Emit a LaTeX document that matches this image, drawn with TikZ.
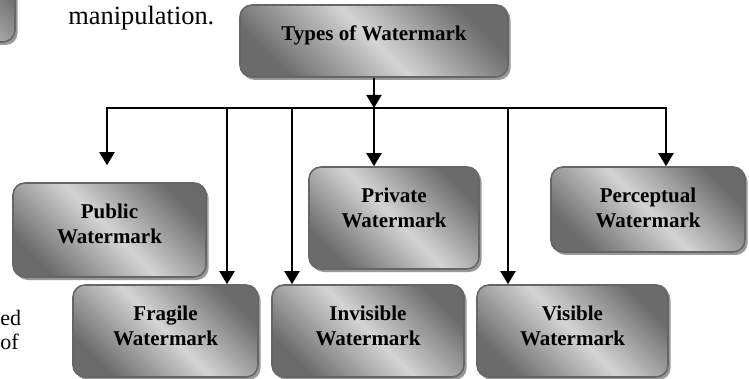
\documentclass[tikz,border=0pt]{standalone}
\usepackage{fontspec}
\setmainfont{Liberation Serif}
\usetikzlibrary{positioning,fit,shadows,arrows.meta}
\definecolor{wmdark}{gray}{0.42}
\definecolor{wmlight}{gray}{0.83}

\begin{document}
\begin{tikzpicture}[x=0.5pt,y=-0.5pt,
    wmbox/.style={draw=black!60,line width=.8pt,rounded corners=6pt,inner sep=0,
      left color=wmdark,right color=wmdark,middle color=wmlight,shading angle=135,
      drop shadow={shadow xshift=1.3pt,shadow yshift=-1.5pt,fill=black!40,opacity=1}},
    wmtext/.style={font=\fontsize{10.5}{12.5}\selectfont\bfseries,align=center,inner sep=0},
    pagetext/.style={font=\fontsize{13.2}{16}\selectfont,inner sep=0},
    wmline/.style={line width=1pt,line cap=rect},
    wmarrow/.style={line width=1pt,-{Triangle[width=7.5pt,length=6.5pt]}}]
  \useasboundingbox (0,0) rectangle (749,379);
  % bits of the page round the figure
  \node[wmbox,fit={(-200,-50) (15,42)}] (prevbox) {};
  \node[pagetext,anchor=base west] (pg1) at (68,25) {manipulation.};
  \node[pagetext,font=\fontsize{11}{12}\selectfont,align=left,anchor=base west] (pg2) at (0,349) {ed\\of};
  % boxes
  \node[wmbox,fit={(240,5) (508,77)}] (types) {};
  \node[wmbox,fit={(13,183) (206,277)}] (public) {};
  \node[wmbox,fit={(309,167) (479,269)}] (private) {};
  \node[wmbox,fit={(551,167) (745,252)}] (perceptual) {};
  \node[wmbox,fit={(73,285) (258,377)}] (fragile) {};
  \node[wmbox,fit={(272,285) (464,377)}] (invisible) {};
  \node[wmbox,fit={(477,285) (668,377)}] (visible) {};
  \node[wmtext,below=10.5pt of types.north] (types-t) {Types of Watermark};
  \node[wmtext,below=10.5pt of public.north] (public-t) {Public\\Watermark};
  \node[wmtext,below=10.5pt of private.north] (private-t) {Private\\Watermark};
  \node[wmtext,below=10.5pt of perceptual.north] (perceptual-t) {Perceptual\\Watermark};
  \node[wmtext,below=10.5pt of fragile.north] (fragile-t) {Fragile\\Watermark};
  \node[wmtext,below=10.5pt of invisible.north] (invisible-t) {Invisible\\Watermark};
  \node[wmtext,below=10.5pt of visible.north] (visible-t) {Visible\\Watermark};
  % connectors
  \coordinate (b1) at (107,108);
  \coordinate (b2) at (227,108);
  \coordinate (b3) at (292,108);
  \coordinate (b4) at (374,108);
  \coordinate (b5) at (508,108);
  \coordinate (b6) at (666,108);
  \draw[wmline] (b1) -- (b6);
  \draw[wmarrow] (types) -- (b4);
  \draw[wmarrow,shorten >=8.5pt] (b1) -- (b1 |- public.north);
  \draw[wmarrow] (b2) -- (b2 |- fragile.north);
  \draw[wmarrow] (b3) -- (b3 |- invisible.north);
  \draw[wmarrow] (b4) -- (b4 |- private.north);
  \draw[wmarrow] (b5) -- (b5 |- visible.north);
  \draw[wmarrow] (b6) -- (b6 |- perceptual.north);
\end{tikzpicture}
\end{document}
